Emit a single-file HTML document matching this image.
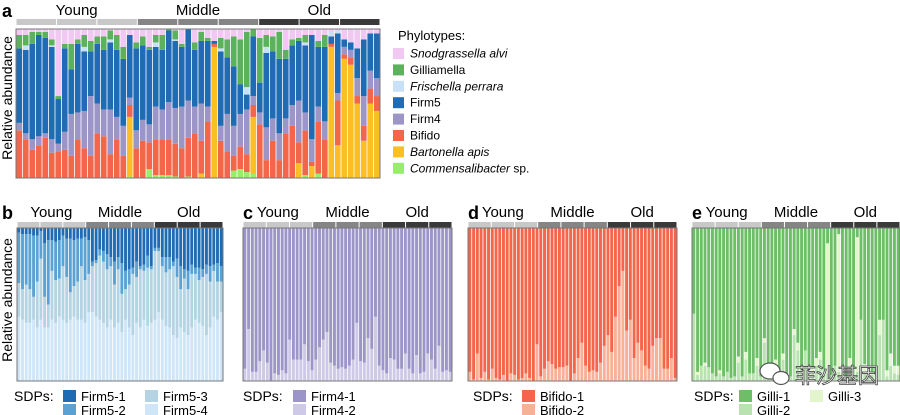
<!DOCTYPE html>
<html><head><meta charset="utf-8"><style>
html,body{margin:0;padding:0;background:#fff;}
svg{display:block;font-family:"Liberation Sans","Noto Sans CJK SC",sans-serif;}
</style></head><body>
<svg id="fig" width="900" height="415" viewBox="0 0 900 415"></svg>
<script>
// ---------- Panel a data (fractions, bottom to top; Snodgrassella = remainder) ----------
const samples = 56;
const commensA = [0,0,0,0,0,0,0,0,0,0,0,0,0,0,0,0,0,.01,0,0, .06,.02,.02,.02,.01,0,.01,0,0,0, 0,0,0,.05,.06,.04,.03, 0,0,0,0,0,0,0,.02,0,.03,0,0, 0,0,0,0,0,0,0];
const bartonA  = [0,0,0,0,0,0,0,0,0,0,0,0,0,0,0,0,0,.40,0,0, 0,0,0,0,0,0,0,0,.03,0, .88,0,0,0,0,0,.38, 0,0,0,0,0,0,.10,0,.08,0,0,.88, .22,.80,.76,.50,.25,.50,.45];
const bifidoA  = [.32,.26,.19,.22,.27,.17,.18,.19,.15,.26,.20,.15,.30,.28,.16,.26,.15,.08,.20,.25, .18,.24,.24,.24,.22,.20,.26,.30,.22,.38, .02,.25,.18,.10,.15,.12,.08, .36,.12,.25,.12,.30,.35,.14,.30,.03,.35,.26,.02, .30,.03,.05,.05,.10,.10,.10];
const firm4A   = [.05,.04,.07,.06,.03,.09,.05,.12,.28,.18,.25,.40,.20,.18,.30,.15,.20,.05,.12,.14, .12,.22,.20,.25,.24,.28,.25,.18,.25,.10, 0,.10,.25,.20,.22,.30,.06, .08,.22,.15,.18,.10,.14,.28,.12,.15,.10,.12,0, .05,.05,.05,.12,.20,.12,.12];
const firm5A   = [.50,.56,.64,.68,.64,.62,.30,.56,.30,.46,.40,.30,.40,.40,.45,.45,.45,.42,.55,.50, .50,.40,.40,.48,.45,.40,.55,.38,.42,.44, .02,.50,.38,.40,.20,.10,.40, .20,.50,.45,.50,.40,.40,.40,.45,.70,.40,.50,.05, .40,.05,.05,.20,.38,.25,.30];
const frischA  = [0,.03,0,0,0,.01,0,0,0,0,.03,0,0,0,.02,0,0,0,0,0, 0,.03,0,0,.01,0,0,0,0,0, 0,.02,0,0,0,.05,0, 0,.04,0,0,0,0,0,.02,0,0,0,.03, .02,0,0,0,0,0,0];
const gilliA   = [.09,.07,.08,.02,.04,.04,.02,.03,.17,.03,.08,.07,.05,.09,.06,.10,.08,0,.04,.06, .02,.05,.10,.03,.06,.02,.02,.05,.06,.02, 0,.07,.12,.20,.30,.37,.10, .30,.08,.10,.18,.06,.04,.02,.05,0,.04,.08,0, 0,0,0,0,0,0,0];
// ---------- Panels b-e (SDP fractions, bottom segments) ----------
const firm5_4 = [.42,.40,.38,.38,.40,.35,.40,.35,.35,.40,.38,.42,.40,.38,.40,.42,.40,.40,.38,.45, .45,.42,.40,.38,.35,.40,.35,.38,.32,.40, .35,.30,.38,.35,.40,.36,.38, .40,.45,.40,.36,.35,.30,.28,.35,.32,.30,.35,.40, .38,.36,.30,.35,.42,.40,.45];
const firm5_3 = [.22,.20,.25,.22,.15,.30,.40,.20,.15,.32,.28,.25,.35,.30,.18,.20,.25,.35,.28,.25, .30,.35,.42,.40,.38,.35,.28,.35,.25,.20, .28,.40,.30,.38,.32,.38,.35, .45,.40,.35,.35,.38,.45,.40,.25,.35,.30,.35,.30, .28,.32,.40,.30,.30,.25,.20];
const firm5_2 = [.33,.36,.33,.36,.40,.30,.18,.35,.42,.20,.25,.25,.20,.25,.35,.30,.28,.18,.28,.22, .03,.02,.04,.07,.10,.06,.15,.08,.20,.12, .10,.04,.10,.02,.04,.08,.02, .02,.02,.06,.10,.08,.03,.12,.15,.06,.12,.06,.04, .08,.05,.06,.10,.04,.12,.10];
const firm4_2 = [.08,.34,.06,.06,.13,.20,.12,.00,.05,.04,.07,.05,.27,.14,.14,.14,.24,.13,.07,.14, .22,.27,.32,.12,.10,.08,.09,.08,.10,.14, .38,.13,.12,.28,.21,.42,.10, .07,.05,.15,.14,.08,.08,.18,.08,.05,.17,.05,.06,.18,.14,.08,.23,.06,.07,.06];
const bifido_2= [.06,.01,.18,.02,.06,.01,.08,.02,.01,.04,.00,.05,.04,.01,.02,.05,.02,.00,.24,.03, .08,.13,.11,.08,.09,.09,.10,.00,.05,.15, .25,.10,.06,.07,.06,.12,.23, .30,.19,.42,.62,.72,.33,.40,.15,.25,.20,.10,.08, .23,.28,.28,.08,.08,.15,.02];
const gilli_2 = [.44,.04,.10,.10,.09,.05,.03,.05,.03,.06,.02,.03,.12,.03,.14,.05,.05,.10,.03,.25, .02,.05,.10,.05,.14,.02,.03,.30,.20,.08, .20,.05,.05,.10,.14,.08,.05, .04,.10,.06,.06,.03,.10,.08,.06,.40,.06,.10,.04, .04,.30,.40,.03,.10,.05,.04];
const gilli_3 = [.00,.02,.00,.02,.00,.00,.00,.02,.00,.00,.00,.00,.04,.00,.05,.00,.00,.05,.00,.03, .00,.02,.04,.02,.04,.00,.00,.04,.05,.00, .00,.03,.04,.05,.05,.00,.85, .00,.00,.90,.02,.00,.05,.00,.88,.00,.05,.00,.02, .00,.10,.00,.04,.08,.05,.06];

const groups = ["Young","Middle","Old"];
const phyloNames = ["Snodgrassella alvi","Gilliamella","Frischella perrara","Firm5","Firm4","Bifido","Bartonella apis","Commensalibacter"];
const phyloColors = ["#f0c8f2","#5cb25c","#c8e0f8","#1f6cb4","#9c95c8","#f4664a","#fbbf24","#98ee6a"];

const NS="http://www.w3.org/2000/svg";
const svg=document.getElementById('fig');
function mk(tag,attrs,parent,text){const e=document.createElementNS(NS,tag);for(const k in attrs)e.setAttribute(k,attrs[k]);if(text!==undefined)e.textContent=text;(parent||svg).appendChild(e);return e;}

function yScale(y0,h,f){return y0+h*(1-f);}

function panel(letter,x0,y0,w,h,series,colors,headerY,labelY,lettersX){
  const g=mk('g',{});
  
  
  const lt=mk('text',{x:lettersX,y:labelY+2,'font-size':18,'font-weight':'bold'},g,letter);
  
  
  const segW=w/9;
  const hc=["#c8c8c8","#c8c8c8","#c8c8c8","#858585","#858585","#858585","#3a3a3a","#3a3a3a","#3a3a3a"];
  for(let i=0;i<9;i++){
    const r=mk('rect',{x:x0+i*segW+0.5,y:headerY,width:segW-1,height:6,fill:hc[i]},g);
    
    
  }
  for(let i=0;i<3;i++){
    const t=mk('text',{x:x0+(i+0.5)*w/3,y:labelY,'font-size':15,'text-anchor':'middle'},g,groups[i]);
    
    
  }
  mk('rect',{x:x0,y:y0,width:w,height:h,fill:'#fff'},g);
  const bw=w/samples;
  for(let i=0;i<samples;i++){
    let cum=0;
    for(let s=0;s<series.length;s++){
      let v=series[s]===null?Math.max(0,1-cum):series[s][i];
      if(cum+v>1)v=Math.max(0,1-cum);
      if(v<=0)continue;
      const yTop=yScale(y0,h,cum+v),yBot=yScale(y0,h,cum);
      const r=mk('rect',{x:x0+i*bw+0.4,y:yTop,width:bw-0.8,height:yBot-yTop,fill:colors[s]},g);
      
      
      cum+=v;
    }
  }
  const b=mk('rect',{x:x0,y:y0,width:w,height:h,fill:'none',stroke:'#777','stroke-width':1},g);
  
  
}

panel('a',16,29,364,149,[commensA,bartonA,bifidoA,firm4A,firm5A,frischA,gilliA,null],
  ["#98ee6a","#fbbf24","#f4664a","#9c95c8","#1f6cb4","#c8e0f8","#5cb25c","#f0c8f2"],19,15,2);
panel('b',17,228,206,153,[firm5_4,firm5_3,firm5_2,null],["#cfe6f8","#b4d4e4","#5aa2d4","#1f6cb4"],222,217,2);
panel('c',243,228,209,153,[firm4_2,null],["#cdc9e6","#9c95c8"],222,217,243);
panel('d',468,228,209,153,[bifido_2,null],["#f9b096","#f4664a"],222,217,468);
panel('e',692,228,208,153,[gilli_2,gilli_3,null],["#b8e2b0","#e2f5cc","#6cbf66"],222,217,692);

const yl1=mk('text',{x:0,y:0,'font-size':14,'text-anchor':'middle',transform:'translate(12,98) rotate(-90)'},svg,'Relative abundance');


const yl2=mk('text',{x:0,y:0,'font-size':14,'text-anchor':'middle',transform:'translate(12,300) rotate(-90)'},svg,'Relative abundance');



const lh=mk('text',{x:398,y:40,'font-size':13},svg,'Phylotypes:');


const italic=[true,false,true,false,false,false,true,true];
for(let i=0;i<8;i++){
  const cy=53+i*16.4;
  const r=mk('rect',{x:393,y:cy-5,width:11,height:11,fill:phyloColors[i]});
  
  
  const t=mk('text',{x:410,y:cy+4.5,'font-size':12});
  
  
  mk('tspan',{'font-style':italic[i]?'italic':'normal'},t,phyloNames[i]);
  if(i===7)mk('tspan',{},t,' sp.');
}
function sdp(x,items){
  const t=mk('text',{x:x,y:401,'font-size':14},svg,'SDPs:');
  
  
  items.forEach(it=>{
    const r=mk('rect',{x:it[0],y:it[1]-6,width:13,height:12,fill:it[3]});
    
    
    const l=mk('text',{x:it[0]+18,y:it[1]+5,'font-size':13},svg,it[2]);
    
    
  });
}
sdp(14,[[63,396,'Firm5-1','#1f6cb4'],[63,410,'Firm5-2','#5aa2d4'],[145,396,'Firm5-3','#b4d4e4'],[145,410,'Firm5-4','#cfe6f8']]);
sdp(243,[[293,396,'Firm4-1','#9c95c8'],[293,410,'Firm4-2','#cdc9e6']]);
sdp(473,[[522,396,'Bifido-1','#f4664a'],[522,410,'Bifido-2','#f9b096']]);
sdp(694,[[739,396,'Gilli-1','#6cbf66'],[739,410,'Gilli-2','#b8e2b0'],[810,396,'Gilli-3','#e2f5cc']]);
const wi=mk('g',{});


mk('ellipse',{cx:770,cy:371,rx:10,ry:8,fill:'#fff',stroke:'#555','stroke-width':1.2},wi);
mk('ellipse',{cx:781,cy:378,rx:8,ry:6.5,fill:'#fff',stroke:'#555','stroke-width':1.2},wi);
const wm=mk('text',{x:795,y:383,'font-size':21,fill:'#ffffff',stroke:'#444','stroke-width':0.8},svg,'菲沙基因');


</script>
</body></html>
